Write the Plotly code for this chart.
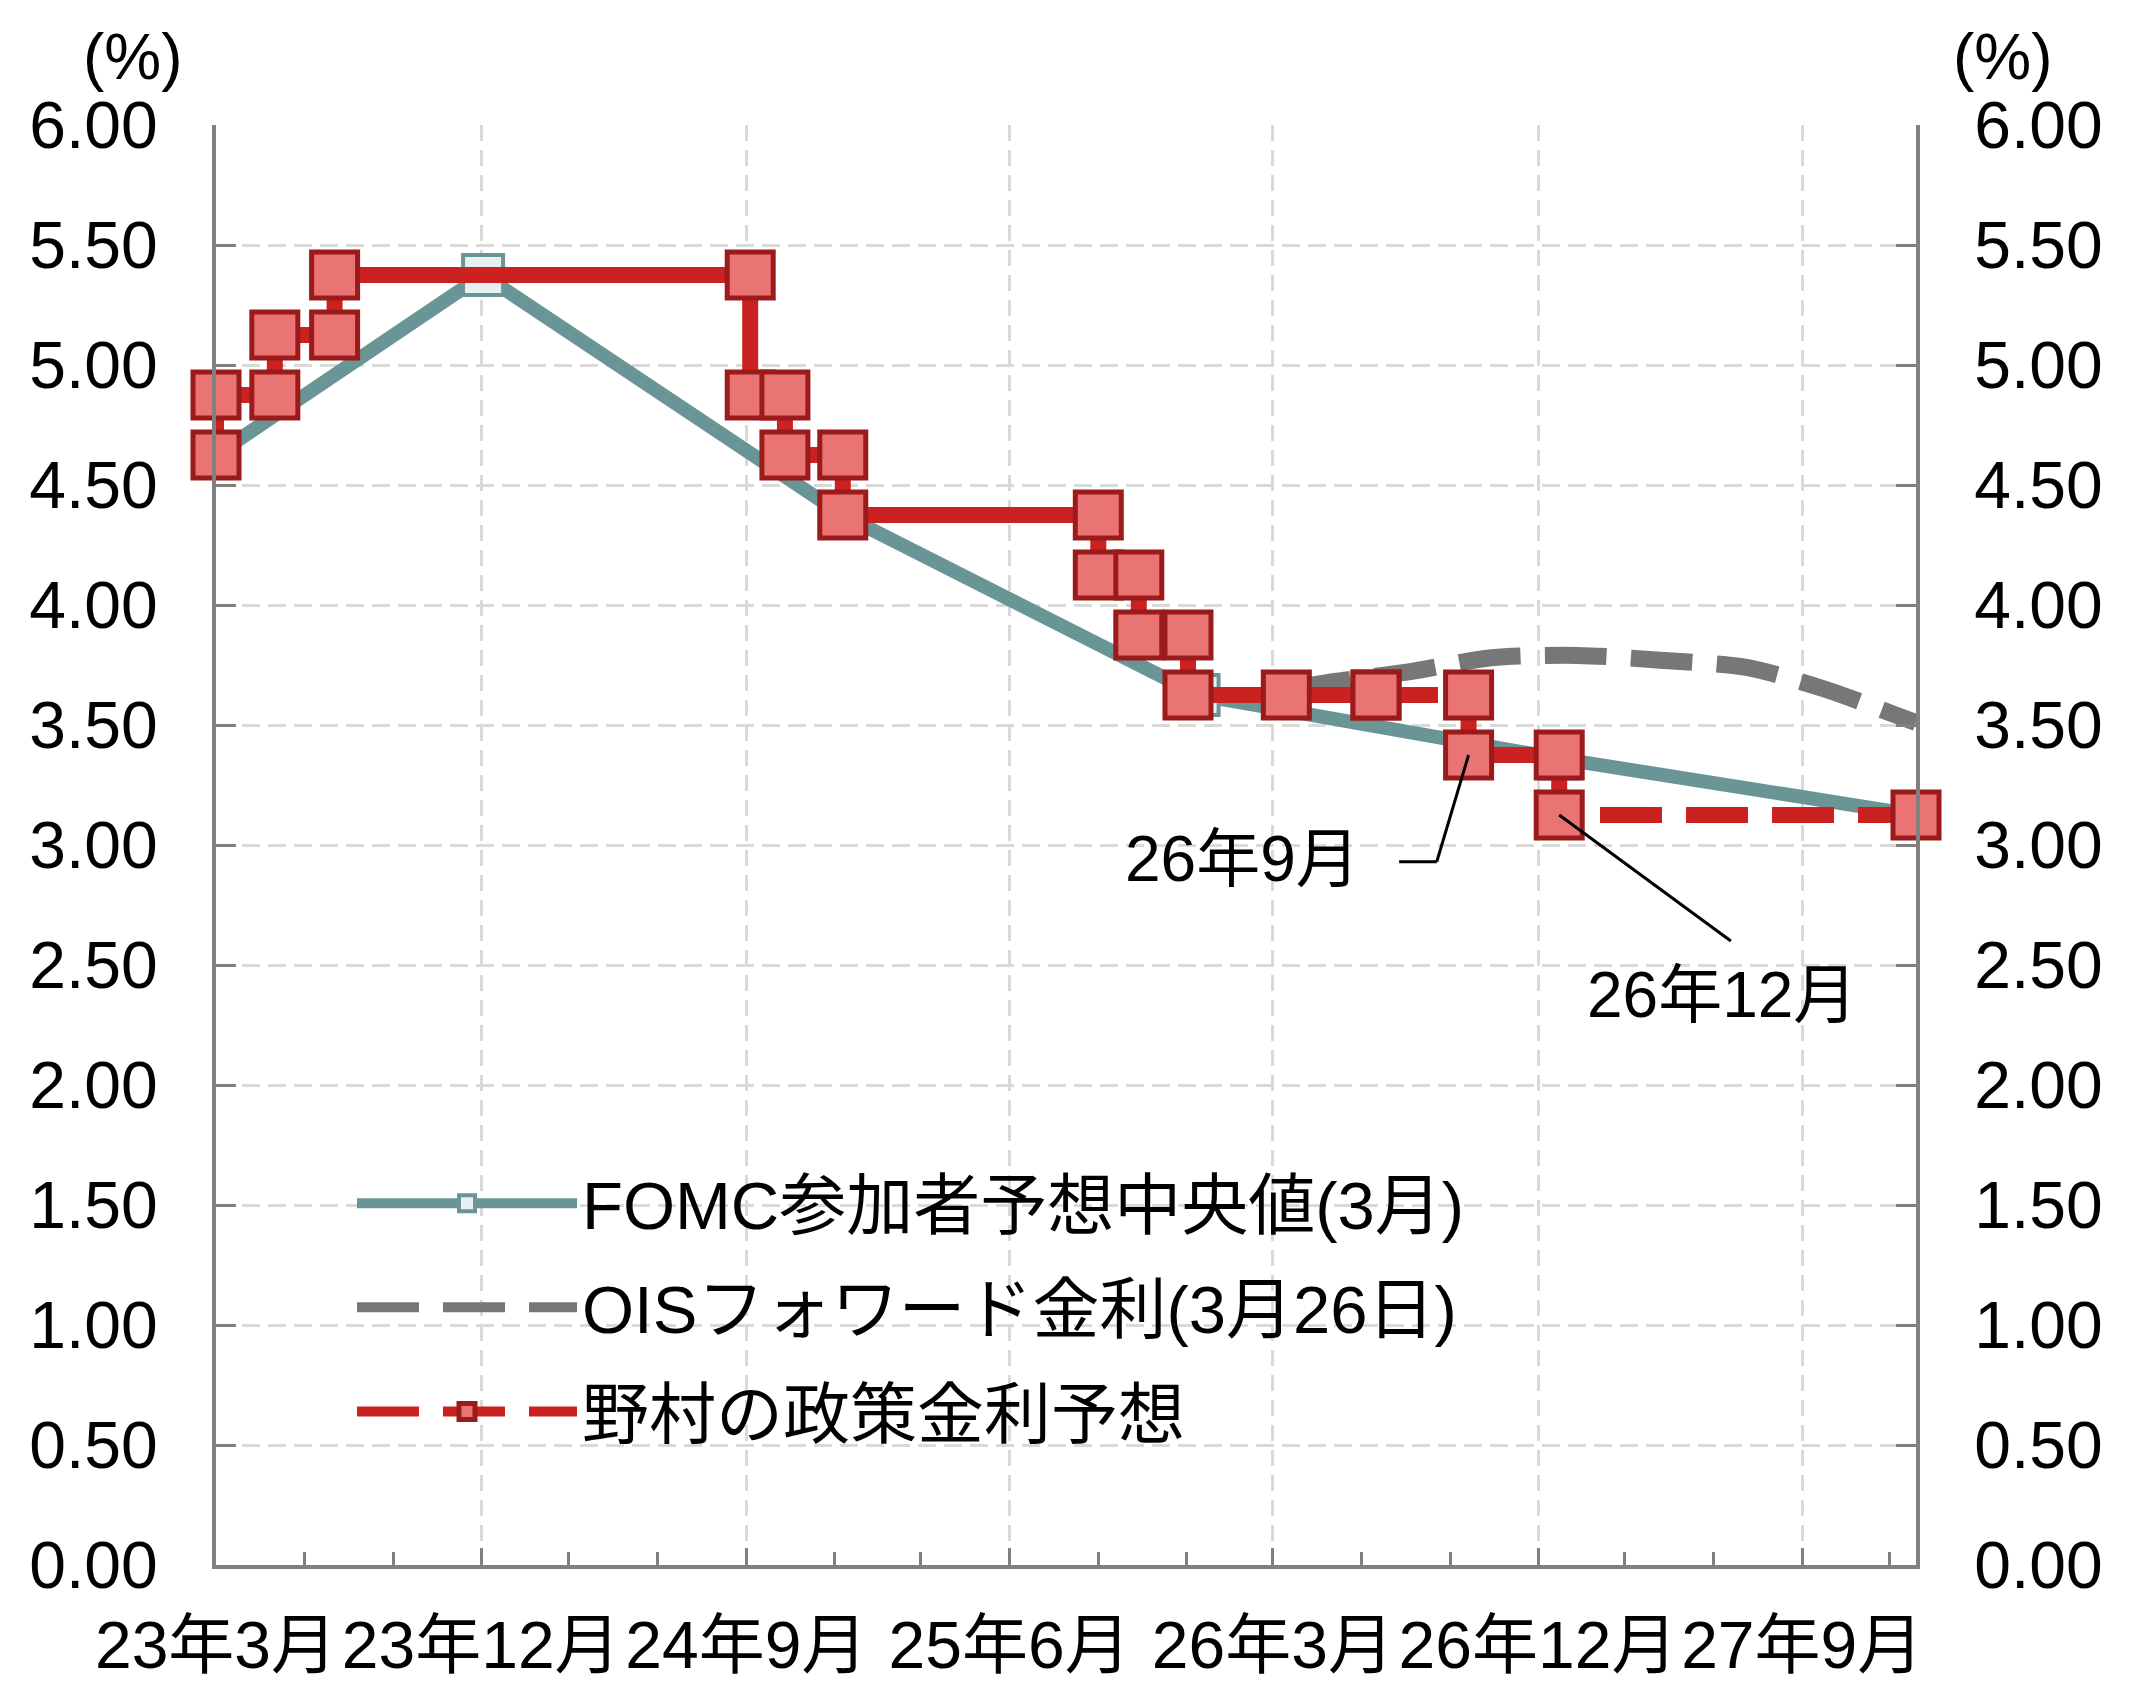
import plotly.graph_objects as go

## Data
# Nomura policy-rate path: two points per meeting = old level, new level
nomura_x = ['2023-03-01', '2023-03-01', '2023-05-01', '2023-05-01', '2023-07-02', '2023-07-02',
            '2024-09-05', '2024-09-05', '2024-10-11', '2024-10-11', '2024-12-10', '2024-12-10',
            '2025-09-01', '2025-09-01', '2025-10-13', '2025-10-13', '2025-12-03', '2025-12-03',
            '2026-03-15', '2026-06-16']
nomura_y = [4.625, 4.875, 4.875, 5.125, 5.125, 5.375,
            5.375, 4.875, 4.875, 4.625, 4.625, 4.375,
            4.375, 4.125, 4.125, 3.875, 3.875, 3.625,
            3.625, 3.625]

# forecast part (dashed)
nomura_fc_x = ['2026-06-16', '2026-09-20', '2026-09-20', '2026-12-23', '2026-12-23', '2027-12-28']
nomura_fc_y = [3.625, 3.625, 3.375, 3.375, 3.125, 3.125]

# FOMC participants' median (March)
fomc_x = ['2023-03-01', '2023-12-03', '2024-12-10', '2025-12-14', '2026-12-23', '2027-12-28']
fomc_y = [4.625, 5.375, 4.375, 3.625, 3.36, 3.125]

# OIS forward rate (as of Mar 26)
ois_x = ['2026-03-18', '2026-05-01', '2026-07-18', '2026-10-14', '2027-01-11',
         '2027-04-07', '2027-07-05', '2027-09-24', '2027-12-08', '2027-12-28']
ois_y = [3.65, 3.68, 3.72, 3.78, 3.79, 3.77, 3.74, 3.65, 3.54, 3.51]

tick_dates = ['2023-03-01', '2023-12-01', '2024-09-01', '2025-06-01',
              '2026-03-01', '2026-12-01', '2027-09-01']
tick_labels = ['23年3月', '23年12月', '24年9月', '25年6月', '26年3月', '26年12月', '27年9月']

names = ['FOMC参加者予想中央値(3月)', 'OISフォワード金利(3月26日)', '野村の政策金利予想']

## Styles
FONT = 'Liberation Sans, Arial, Noto Sans CJK JP, sans-serif'
teal = '#6a9597'
red = '#cc2121'
red_fill = '#ea7474'
red_edge = '#9b1b1b'
ois_gray = '#777777'
grid = '#d9d9d9'
axis_gray = '#808080'
DASH = '62px,24px'

red_marker = dict(symbol='square', size=46, color=red_fill, line=dict(color=red_edge, width=5))

fig = go.Figure()

fig.add_trace(go.Scatter(x=fomc_x, y=fomc_y, name=names[0], legendgroup='a',
                         mode='lines+markers', line=dict(color=teal, width=14),
                         marker=dict(symbol='square', size=40, color='#e8f1f1',
                                     line=dict(color=teal, width=4)),
                         cliponaxis=False))

fig.add_trace(go.Scatter(x=ois_x, y=ois_y, name=names[1], legendgroup='b',
                         mode='lines', line=dict(color=ois_gray, width=17, dash=DASH,
                                                 shape='spline', smoothing=0.8),
                         cliponaxis=False))

# Nomura on the right axis (same scale) so it sits on top, as in the original
fig.add_trace(go.Scatter(x=nomura_x, y=nomura_y, name=names[2], legendgroup='c', showlegend=False,
                         mode='lines+markers', line=dict(color=red, width=16),
                         marker=red_marker, cliponaxis=False, yaxis='y2'))

fig.add_trace(go.Scatter(x=nomura_fc_x, y=nomura_fc_y, name=names[2], legendgroup='c',
                         mode='lines+markers', line=dict(color=red, width=16, dash=DASH),
                         marker=red_marker, cliponaxis=False, yaxis='y2'))

## Callouts
fig.add_annotation(x='2026-01-29', y=2.94, text='26年9月', showarrow=False,
                   font=dict(size=64, color='black'))
fig.add_annotation(x='2027-06-10', y=2.375, text='26年12月', showarrow=False,
                   font=dict(size=64, color='black'))
leader = dict(color='black', width=3)
fig.add_shape(type='line', x0='2026-07-10', y0=2.93, x1='2026-08-18', y1=2.93, line=leader)
fig.add_shape(type='line', x0='2026-08-18', y0=2.93, x1=nomura_fc_x[2], y1=nomura_fc_y[2], line=leader)
fig.add_shape(type='line', x0=nomura_fc_x[4], y0=nomura_fc_y[4], x1='2027-06-19', y1=2.60, line=leader)

## Unit labels
for ux in (-0.049, 1.051):
    fig.add_annotation(xref='paper', yref='paper', x=ux, y=1.047, text='(%)', showarrow=False,
                       xanchor='center', yanchor='middle', font=dict(size=64, color='black'))

yax = dict(range=[0, 6], dtick=0.5, tick0=0, tickformat='.2f', ticks='inside', ticklen=20,
           tickwidth=3, tickcolor=axis_gray, showline=True, linecolor=axis_gray, linewidth=4,
           zeroline=False, tickfont=dict(size=66, color='black'), ticklabelstandoff=41)

fig.update_layout(
    width=2134, height=1689, template='none',
    margin=dict(l=216, r=218, t=125, b=124),
    font=dict(family=FONT, color='black'),
    paper_bgcolor='white', plot_bgcolor='white',
    xaxis=dict(type='date', range=['2023-03-01', '2027-12-28'],
               tickmode='array', tickvals=tick_dates, ticktext=tick_labels,
               ticks='inside', ticklen=17, tickwidth=3, tickcolor=axis_gray,
               showline=True, linecolor=axis_gray, linewidth=4, zeroline=False,
               showgrid=True, gridcolor=grid, gridwidth=3, griddash='16px,9px',
               minor=dict(ticks='inside', ticklen=13, tickwidth=3, tickcolor=axis_gray,
                          tickmode='linear', tick0='2023-03-01', dtick='M3', showgrid=False),
               tickfont=dict(size=66, color='black'), ticklabelstandoff=20),
    yaxis=dict(**yax, showgrid=True, gridcolor=grid, gridwidth=3, griddash='18px,8px'),
    yaxis2=dict(**yax, overlaying='y', side='right', anchor='x', showgrid=False),
    showlegend=True,
    legend=dict(x=0.080, y=0.286, xanchor='left', yanchor='top', font=dict(size=67),
                itemwidth=220, traceorder='grouped', tracegroupgap=14,
                bgcolor='rgba(0,0,0,0)'),
)

# drop the default 8px page margin so the figure fills the window exactly
fig.write_html("out.html", config={'displayModeBar': False},
               post_script="document.body.style.margin='0';")
